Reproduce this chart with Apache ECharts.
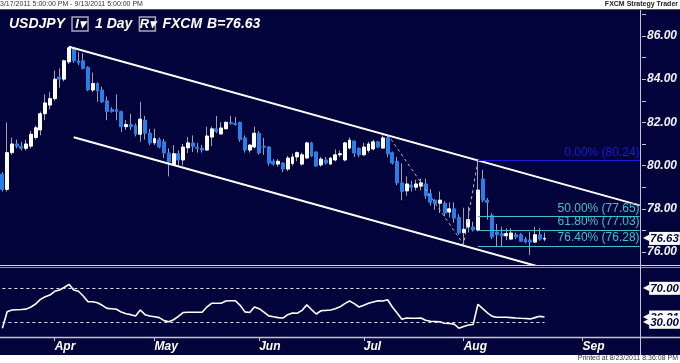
<!DOCTYPE html>
<html><head><meta charset="utf-8">
<script src="https://cdn.jsdelivr.net/npm/echarts@6/dist/echarts.min.js"></script>
<style>html,body{margin:0;padding:0;background:#fff}#c{width:680px;height:363px}</style>
</head><body><div id="c"></div>
<script>
// ---- data ----
const openP  = [79.6,78.9,80.6,81.0,80.9,80.8,80.9,81.3,81.65,82.4,82.8,83.1,84.1,84.0,84.8,85.4,84.85,84.85,84.55,83.5,83.8,83.5,83.0,82.6,82.6,82.5,81.8,81.9,81.85,81.45,82.1,81.5,81.05,81.2,81.1,80.58,80.05,80.55,80.26,80.82,81.05,80.85,80.8,80.72,81.32,81.7,81.46,81.7,82.0,81.95,82.0,81.28,80.72,80.86,81.5,80.9,80.86,80.2,80.07,80.12,79.84,80.1,80.4,80.07,80.35,81.05,80.63,80.03,80.26,80.07,80.26,80.5,80.26,80.81,81.14,80.8,80.5,80.7,80.77,81.1,80.81,81.3,80.6,80.2,79.2,78.83,79.1,79.0,79.05,79.15,78.7,78.4,78.26,78.26,77.85,78.0,77.6,76.9,77.16,77.16,77.02,79.38,78.4,77.7,76.93,76.85,76.75,76.6,76.8,76.8,76.6,76.56,76.46,76.8,76.6];
const highP  = [79.7,82.0,81.3,81.2,81.1,81.2,81.6,81.85,82.5,83.3,83.4,84.4,84.5,84.9,85.5,85.45,85.25,85.2,84.6,84.3,83.85,83.65,83.2,82.7,83.3,82.55,82.1,82.4,81.95,82.95,82.3,81.7,81.7,81.3,81.23,80.8,80.95,80.7,81.0,81.32,81.4,81.05,80.95,81.8,81.8,82.3,82.0,82.05,82.3,82.25,82.03,81.4,81.0,81.8,81.6,81.28,80.9,80.3,80.3,80.15,80.45,80.55,80.65,80.6,81.1,81.1,80.65,80.4,80.4,80.4,80.75,80.7,81.1,81.3,81.14,80.85,81.05,81.1,81.2,81.15,81.4,81.45,80.65,80.4,80.1,79.5,79.3,79.35,79.4,79.4,78.9,78.45,78.8,78.35,78.3,78.3,77.75,78.05,78.1,77.4,80.24,79.8,78.5,77.8,77.3,77.17,77.1,77.1,76.9,76.88,76.7,76.94,77.17,77.1,76.9];
const lowP   = [78.8,78.8,80.5,80.8,80.7,80.7,80.8,81.2,81.4,82.1,82.6,83.0,83.6,83.9,84.7,84.75,84.65,84.45,83.45,83.4,82.95,82.9,82.1,82.45,82.1,81.55,81.65,81.65,81.35,81.1,81.2,80.95,80.95,80.8,80.35,79.5,79.98,80.0,80.0,80.58,80.63,80.6,80.6,80.68,80.9,81.5,81.46,81.68,81.9,81.85,81.1,80.6,80.6,80.8,80.5,80.5,80.0,80.0,79.95,79.7,79.75,80.0,80.2,80.0,80.3,80.4,79.95,79.95,80.05,80.05,80.2,80.4,80.2,80.75,80.4,80.4,80.45,80.6,80.7,80.8,80.8,80.4,80.05,79.1,78.4,78.6,78.8,78.85,78.85,78.45,78.15,77.95,77.8,77.65,77.6,77.35,76.8,76.35,76.9,76.95,76.95,78.3,77.5,76.6,76.28,76.28,76.55,76.55,76.6,76.48,76.4,75.86,76.43,76.52,76.5];
const closeP = [78.9,80.6,81.0,80.9,80.8,81.0,81.45,81.75,82.4,82.9,83.1,84.0,84.0,84.85,85.45,84.85,84.75,84.5,83.5,83.8,83.45,82.95,82.5,82.5,82.5,81.8,81.9,81.8,81.45,82.15,81.5,81.05,81.25,80.86,80.58,80.17,80.55,80.26,80.86,81.05,80.88,80.8,80.72,81.37,81.7,81.58,81.74,82.0,81.95,81.9,81.2,80.72,80.95,81.5,80.58,80.85,80.12,80.07,80.2,79.84,80.35,80.4,80.6,80.5,81.05,80.44,79.98,80.3,80.12,80.35,80.5,80.55,81.05,81.18,80.58,80.5,80.86,81.0,81.1,80.86,81.28,80.54,80.12,79.2,78.8,79.15,79.0,79.15,79.2,78.6,78.3,78.26,78.4,77.8,78.0,77.57,76.88,77.05,77.5,77.02,78.87,78.4,78.3,76.7,76.8,76.75,76.85,76.88,76.7,76.5,76.46,76.46,76.8,76.6,76.63];
const rsiVals = [23,42.5,44.5,44.8,45,45.5,48,51.5,57,60,62,66.5,68,71,74.7,68,66.5,61,54.2,54.2,53,50,46.4,46,45.3,42,40,39,37.4,44.5,39,37.4,36.5,35.5,32,30.7,33,37,41.5,41.8,41.8,41.8,41.8,48,52.4,52.4,52.4,55,55.4,55.4,50,42.3,41.5,48,46,42,37.6,36.5,35.5,35,39,41,40.7,44,50.5,45,39.8,43.6,44,44.5,46,48.2,52,55,52,48,50,52.5,54,55.4,55,56.5,48,41,33.5,35,34.8,34.8,35,32.5,31.3,31,30.5,28.8,28.5,27.8,23,25,26.8,27.5,51.2,46,41,37,35.9,35.9,35.9,35.5,35,34.7,34.5,34,35.5,37,36.2];
const monthLabels = ['Apr','May','Jun','Jul','Aug','Sep'];
const priceTicks  = [76,77,78,79,80,81,82,83,84,85,86,87];
const priceLabels = [76,78,80,82,84,86];
const upperChannel = [[14,85.5],[134,78.16]];   // [category index, price]
const lowerChannel = [[15,81.31],[125,74.58]];
const zigzag = [[81,81.45],[97,76.35],[100,80.24]];
const fibStart = 100, fibEnd = 134;
const fibLevels = [['0.00%',80.24,'#1a1ad8'],['50.00%',77.65,'#3cc4c4'],['61.80%',77.03,'#3cc4c4'],['76.40%',76.28,'#3cc4c4']];
const rsiLevels = [70,30];
const lastPrice = 76.63, lastRsi = 36.21;

// categories: daily candles (weekdays) up to 8/24/2011, then calendar days to 9/13/2011
function buildDates(){
  const out=[]; const d=new Date(Date.UTC(2011,2,17));
  const lastCandle=Date.UTC(2011,7,24), end=Date.UTC(2011,8,13);
  while(d.getTime()<=end){
    const wd=d.getUTCDay();
    if(d.getTime()>lastCandle || (wd!==0 && wd!==6)) out.push((d.getUTCMonth()+1)+'/'+d.getUTCDate()+'/2011');
    d.setUTCDate(d.getUTCDate()+1);
  }
  return out;
}
const cats = buildDates();
const monthOf = s => +s.split('/')[0];
const monthStart = new Set();
cats.forEach((c,i)=>{ if(i>0 && monthOf(c)!==monthOf(cats[i-1])) monthStart.add(i); });
const monthName = s => monthLabels[monthOf(s)-4];

const NAVY='#03033c', BLUE='#2a7fe6', WICK='#a0a0b4', AX='#c4c4d0';
const FONT='Liberation Sans';
const CLEAR='rgba(0,0,0,0)';
// value tag: a left-pointing notch followed by a white box
const tagLabel = {show:true, position:'end', distance:1,
  rich:{
    n:{color:'#fff', fontSize:8, fontFamily:'DejaVu Sans', lineHeight:13},
    v:{backgroundColor:'#fff', color:'#000040', fontStyle:'italic', fontWeight:'bold', fontSize:11.5,
       fontFamily:FONT, padding:[1,1,0,1], lineHeight:13}
  }};
const tagText = v => '{n|◀}{v|'+v.toFixed(2)+'}';

const wickData = openP.map((o,i)=>[o,closeP[i],lowP[i],highP[i]]);
const bodyData = openP.map((o,i)=>[o,closeP[i],Math.min(o,closeP[i]),Math.max(o,closeP[i])]);
const pt = p => [cats[p[0]], p[1]];

const chart = echarts.init(document.getElementById('c'), null, {renderer:'canvas'});
chart.setOption({
  animation:false,
  backgroundColor:'#fff',
  graphic:[
    {type:'rect', z:-10, shape:{x:0,y:9,width:680,height:346}, style:{fill:NAVY}},
    {type:'line', z:-5, shape:{x1:0,y1:9.5,x2:680,y2:9.5}, style:{stroke:'#555',lineWidth:1}},
    {type:'text', left:0, top:1, style:{text:'3/17/2011 5:00:00 PM - 9/13/2011 5:00:00 PM', fill:'#333', font:'7px '+FONT}},
    {type:'text', right:2, top:1, style:{text:'FXCM Strategy Trader', fill:'#222', font:'bold 7px '+FONT}},
    {type:'text', right:2, top:355, style:{text:'Printed at 8/23/2011 8:36:08 PM', fill:'#333', font:'7px '+FONT}},
    {type:'line', z:5, shape:{x1:0,y1:265.5,x2:680,y2:265.5}, style:{stroke:'#d8d8e0',lineWidth:1}},
    {type:'line', z:5, shape:{x1:0,y1:267.5,x2:680,y2:267.5}, style:{stroke:'#9090a8',lineWidth:1}},
    {type:'line', z:5, shape:{x1:0,y1:337.5,x2:680,y2:337.5}, style:{stroke:AX,lineWidth:1.5}},
    {type:'line', z:5, shape:{x1:640.5,y1:10,x2:640.5,y2:355}, style:{stroke:AX,lineWidth:1}}
  ],
  title:{
    left:4, top:12,
    text:'{t|USDJPY}{g| }{b|I▾}{g| }{t|1 Day}{g| }{b|R▾}{g| }{t|FXCM}{h| }{t|B=76.63}',
    textStyle:{rich:{
      t:{color:'#fff', fontSize:14, fontWeight:'bold', fontStyle:'italic', fontFamily:'Liberation Sans Narrow, '+FONT},
      g:{width:7, fontSize:14},
      h:{width:5, fontSize:14},
      b:{color:'#fff', fontSize:13, fontWeight:'bold', fontStyle:'italic', fontFamily:FONT, borderColor:'#a8a8b8', borderWidth:1.5, padding:[1,1,0,2], width:13, height:13, align:'center'}
    }}
  },
  grid:[{left:0,right:38,top:10,height:255},{left:0,right:38,top:268,height:69}],
  xAxis:[
    {type:'category', gridIndex:0, data:cats, boundaryGap:true, show:false},
    {type:'category', gridIndex:1, data:cats, boundaryGap:true,
     axisLine:{show:false},
     axisTick:{show:true, interval:(i)=>monthStart.has(i), alignWithLabel:true, length:4, lineStyle:{color:AX}},
     axisLabel:{interval:(i)=>monthStart.has(i), formatter:(v)=>monthName(v), align:'left', margin:4,
       color:'#fff', fontStyle:'italic', fontWeight:'bold', fontSize:12, fontFamily:FONT},
     splitLine:{show:false}}
  ],
  yAxis:[
    {type:'value', gridIndex:0, position:'right', min:75.4, max:87.2, scale:true,
     axisLine:{show:false}, splitLine:{show:false},
     axisTick:{show:true, customValues:priceTicks, length:4, lineStyle:{color:AX}},
     axisLabel:{customValues:priceLabels, formatter:v=>v.toFixed(2), margin:5, color:'#f0f0f8',
       fontStyle:'italic', fontWeight:'bold', fontSize:12, fontFamily:FONT}},
    {type:'value', gridIndex:1, position:'right', min:12.7, max:93.9,
     axisLine:{show:false}, splitLine:{show:false}, axisTick:{show:false}, axisLabel:{show:false}}
  ],
  series:[
    {type:'candlestick', name:'wick', xAxisIndex:0, yAxisIndex:0, data:wickData, barWidth:1,
     itemStyle:{color:WICK,color0:WICK,borderColor:WICK,borderColor0:WICK,borderWidth:1}},
    {type:'candlestick', name:'body', xAxisIndex:0, yAxisIndex:0, data:bodyData, barWidth:3.4,
     itemStyle:{color:'#ffffff',color0:BLUE,borderColor:'#ffffff',borderColor0:BLUE,borderWidth:1},
     markLine:{silent:true, animation:false, symbol:['none','none'],
       lineStyle:{color:CLEAR, width:1, type:'solid'},
       label:Object.assign({}, tagLabel, {formatter:tagText(lastPrice)}),
       data:[{yAxis:lastPrice}]}},
    {type:'line', name:'upper', xAxisIndex:0, yAxisIndex:0, data:upperChannel.map(pt), symbol:'none',
     lineStyle:{color:'#fff',width:2}, z:3},
    {type:'line', name:'lower', xAxisIndex:0, yAxisIndex:0, data:lowerChannel.map(pt), symbol:'none', clip:true,
     lineStyle:{color:'#fff',width:2}, z:3},
    {type:'line', name:'zigzag', xAxisIndex:0, yAxisIndex:0, data:zigzag.map(pt), symbol:'none',
     lineStyle:{color:'#b4b4c4',width:1,type:[3,3]}, z:3},
    {type:'line', name:'fib', xAxisIndex:0, yAxisIndex:0, data:[], symbol:'none',
     markLine:{silent:true, animation:false, symbol:['none','none'],
       data:fibLevels.map(f=>[
         {coord:[cats[fibStart],f[1]], lineStyle:{color:f[2],width:1.2,type:'solid'},
          label:{show:true, position:'insideEndTop', distance:[0,2], formatter:f[0]+' ('+f[1].toFixed(2)+')',
            color:f[2], fontSize:12, fontFamily:FONT}},
         {coord:[cats[fibEnd],f[1]]}
       ])}},
    {type:'line', name:'RSI', xAxisIndex:1, yAxisIndex:1, data:rsiVals, symbol:'none',
     lineStyle:{color:'#fff',width:1.6},
     markLine:{silent:true, animation:false, symbol:['none','none'],
       data:[
         {yAxis:lastRsi, lineStyle:{color:CLEAR}, label:Object.assign({},tagLabel,{formatter:tagText(lastRsi)})},
         ...rsiLevels.map(v=>({yAxis:v, lineStyle:{color:CLEAR}, label:Object.assign({},tagLabel,{formatter:tagText(v)})})),
         ...rsiLevels.map(v=>[
           {coord:[cats[0],v], lineStyle:{color:'#e0e0e8',width:1,type:[3,3]}, label:{show:false}},
           {coord:[cats[rsiVals.length-1],v]}
         ])
       ]}}
  ]
});
</script></body></html>
